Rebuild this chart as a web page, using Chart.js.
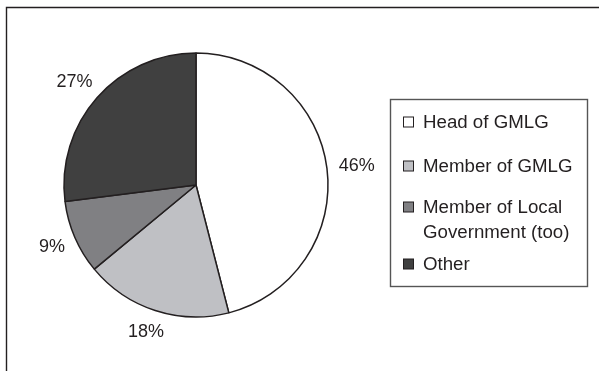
<!DOCTYPE html>
<html>
<head>
<meta charset="utf-8">
<script src="https://cdn.jsdelivr.net/npm/chart.js@4.4.1/dist/chart.umd.min.js"></script>
<style>
  html, body { margin: 0; padding: 0; background: #fff; }
  #wrap { width: 599px; height: 371px; position: relative; }
</style>
</head>
<body>
<div id="wrap"><canvas id="pie"></canvas></div>
<script>
/* ── Data ───────────────────────────────────────── */
const roles   = ['Head of GMLG', 'Member of GMLG', ['Member of Local', 'Government (too)'], 'Other'];
const shares  = [46, 18, 9, 27];
const fills   = ['#ffffff', '#bfc0c4', '#808083', '#404040'];

const INK  = '#231f20';
const PCT_FONT = '18px "Liberation Sans", Arial, sans-serif';
const LEG_FONT = '18.7px "Liberation Sans", Arial, sans-serif';

/* ── Outer frame (only top and left edges show) ─── */
const framePlugin = {
  id: 'frame',
  beforeDraw(chart) {
    const c = chart.ctx;
    c.save();
    c.fillStyle = '#fff';
    c.fillRect(0, 0, chart.width, chart.height);
    c.strokeStyle = INK;
    c.lineWidth = 1.4;
    c.beginPath();
    c.moveTo(6.5, chart.height + 2);
    c.lineTo(6.5, 7.5);
    c.lineTo(chart.width + 2, 7.5);
    c.stroke();
    c.restore();
  }
};

/* ── Percent labels outside each slice ──────────── */
const pctPlugin = {
  id: 'pct',
  afterDatasetsDraw(chart) {
    const c = chart.ctx;
    const arcs = chart.getDatasetMeta(0).data;
    const vals = chart.data.datasets[0].data;
    c.save();
    c.font = PCT_FONT;
    c.fillStyle = INK;
    c.textAlign = 'center';
    c.textBaseline = 'middle';
    arcs.forEach((arc, i) => {
      const mid = (arc.startAngle + arc.endAngle) / 2;
      const dx = Math.cos(mid), dy = Math.sin(mid);
      const txt = vals[i] + '%';
      const w = c.measureText(txt).width;
      const r = arc.outerRadius + 12;
      const x = arc.x + dx * r + dx * w / 2;
      const y = arc.y + dy * r + dy * 11;
      c.fillText(txt, x, y);
    });
    c.restore();
  }
};

/* ── Boxed legend on the right ──────────────────── */
const legendPlugin = {
  id: 'boxLegend',
  afterDraw(chart) {
    const c = chart.ctx;
    const ds = chart.data.datasets[0];
    const rows = [122, 166, 207, 264];
    c.save();
    c.strokeStyle = '#555';
    c.lineWidth = 1.4;
    c.strokeRect(390.5, 99.5, 197, 187);
    c.font = LEG_FONT;
    c.textBaseline = 'middle';
    c.textAlign = 'left';
    chart.data.labels.forEach((lab, i) => {
      const y = rows[i];
      c.fillStyle = ds.backgroundColor[i];
      c.fillRect(403.5, y - 5, 10, 10);
      c.strokeStyle = INK;
      c.lineWidth = 1;
      c.strokeRect(403.5, y - 5, 10, 10);
      c.fillStyle = INK;
      const lines = Array.isArray(lab) ? lab : [lab];
      lines.forEach((t, k) => c.fillText(t, 423, y + 1 + k * 24.5));
    });
    c.restore();
  }
};

/* ── Chart ──────────────────────────────────────── */
new Chart(document.getElementById('pie'), {
  type: 'pie',
  data: {
    labels: roles,
    datasets: [{
      data: shares,
      backgroundColor: fills,
      borderColor: INK,
      borderWidth: 1.5
    }]
  },
  options: {
    responsive: true,
    maintainAspectRatio: false,
    animation: false,
    radius: 132,
    layout: { padding: { left: 62, right: 269, top: 51, bottom: 52 } },
    plugins: {
      legend: { display: false },
      tooltip: { enabled: false }
    }
  },
  plugins: [framePlugin, pctPlugin, legendPlugin]
});
</script>
</body>
</html>
